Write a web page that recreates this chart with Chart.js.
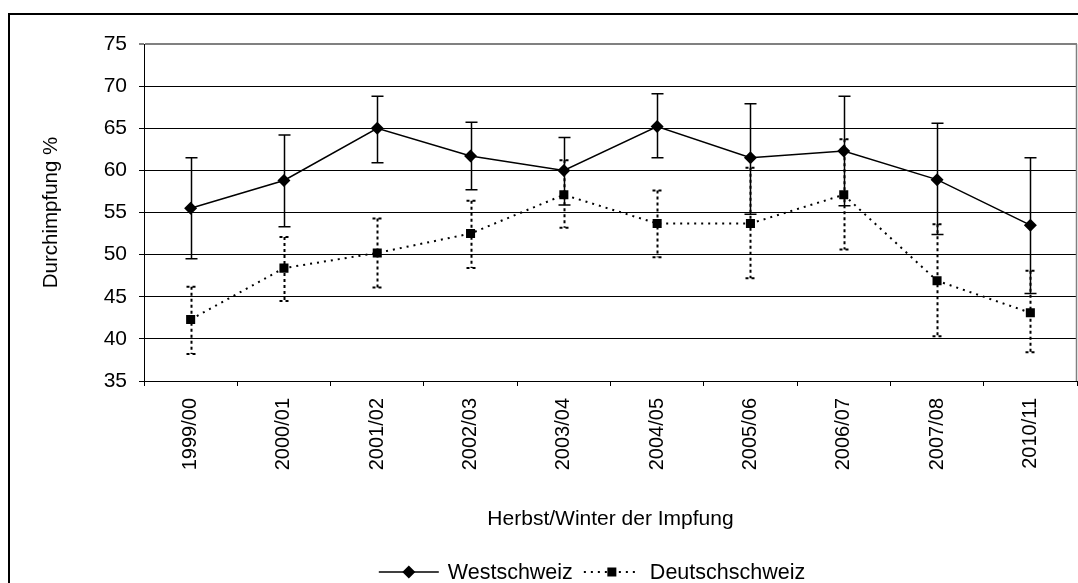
<!DOCTYPE html>
<html>
<head>
<meta charset="utf-8">
<script src="https://cdn.jsdelivr.net/npm/chart.js@4/dist/chart.umd.min.js"></script>
<style>
  html, body { margin: 0; padding: 0; background: #fff; }
  #wrap { width: 1078px; height: 583px; position: relative; }
</style>
</head>
<body>
<div id="wrap"><canvas id="myChart" width="1078" height="583"></canvas></div>
<script>
// data
var seasons = ['1999/00', '2000/01', '2001/02', '2002/03', '2003/04', '2004/05', '2005/06', '2006/07', '2007/08', '2010/11'];
var west = [55.5, 58.8, 65.0, 61.7, 60.0, 65.2, 61.5, 62.3, 58.9, 53.5];
var westLow = [49.5, 53.3, 60.9, 57.7, 55.9, 61.5, 54.8, 55.8, 52.4, 45.4];
var westHigh = [61.5, 64.2, 68.8, 65.7, 63.9, 69.1, 67.9, 68.8, 65.6, 61.5];
var deutsch = [42.3, 48.4, 50.2, 52.5, 57.1, 53.7, 53.7, 57.1, 46.9, 43.1];
var deutschLow = [38.2, 44.5, 46.1, 48.4, 53.2, 49.7, 47.2, 50.6, 40.3, 38.4];
var deutschHigh = [46.2, 52.1, 54.3, 56.4, 61.2, 57.6, 60.3, 63.7, 53.6, 48.1];
var yMin = 35, yMax = 75, yStep = 5;

var FONT = 'Liberation Sans, Arial, sans-serif';

// error bars, drawn under the markers
var errorBars = {
  id: 'errorBars',
  beforeDatasetsDraw: function (chart) {
    var ctx = chart.ctx, ys = chart.scales.y;
    chart.data.datasets.forEach(function (ds, i) {
      var meta = chart.getDatasetMeta(i);
      ctx.save();
      ctx.strokeStyle = '#000';
      ctx.lineWidth = ds.errDotted ? 2 : 1.5;
      ctx.setLineDash(ds.errDotted ? [3, 3] : []);
      meta.data.forEach(function (pt, j) {
        var x = Math.round(pt.x) + 0.5;
        var yh = ys.getPixelForValue(ds.errHigh[j]);
        var yl = ys.getPixelForValue(ds.errLow[j]);
        var w = ds.errDotted ? 5 : 6;
        ctx.beginPath();
        ctx.moveTo(x, yh); ctx.lineTo(x, yl);
        ctx.moveTo(x - w, yh); ctx.lineTo(x + w, yh);
        ctx.moveTo(x - w, yl); ctx.lineTo(x + w, yl);
        ctx.stroke();
      });
      ctx.restore();
    });
  }
};

// outer frame + plot border
var frame = {
  id: 'frame',
  beforeDraw: function (chart) {
    var ctx = chart.ctx;
    ctx.save();
    ctx.fillStyle = '#fff';
    ctx.fillRect(0, 0, chart.width, chart.height);
    ctx.strokeStyle = '#000';
    ctx.lineWidth = 2;
    ctx.strokeRect(9, 14, 1200, 1000);
    ctx.restore();
  },
  afterDraw: function (chart) {
    var ctx = chart.ctx, a = chart.chartArea;
    ctx.save();
    ctx.strokeStyle = '#808080';
    ctx.lineWidth = 1.5;
    ctx.beginPath();
    ctx.moveTo(a.right - 0.5, a.top);
    ctx.lineTo(a.right - 0.5, a.bottom);
    ctx.stroke();
    ctx.restore();
  }
};

function drawMarker(ctx, style, x, y) {
  ctx.setLineDash([]);
  ctx.fillStyle = '#000';
  ctx.beginPath();
  if (style === 'rectRot') {
    ctx.moveTo(x, y - 6.5); ctx.lineTo(x + 6.5, y); ctx.lineTo(x, y + 6.5); ctx.lineTo(x - 6.5, y);
    ctx.closePath();
  } else {
    ctx.rect(x - 4.5, y - 4.5, 9, 9);
  }
  ctx.fill();
}

// legend: line + marker like the original
var legendSym = [60, 56];
var lineLegend = {
  id: 'lineLegend',
  afterDraw: function (chart) {
    var ctx = chart.ctx;
    var ds = chart.data.datasets;
    var gapSym = [9, 10], gapItem = 11, y = 572, centre = 592;
    ctx.save();
    ctx.font = '21.5px ' + FONT;
    var total = 0;
    ds.forEach(function (d, i) {
      total += legendSym[i] + gapSym[i] + ctx.measureText(d.label).width + (i ? gapItem : 0);
    });
    var x = centre - total / 2;
    ds.forEach(function (d, i) {
      if (i) x += gapItem;
      ctx.strokeStyle = '#000';
      ctx.lineWidth = d.borderWidth;
      ctx.setLineDash(d.borderDash || []);
      ctx.beginPath();
      ctx.moveTo(x, y); ctx.lineTo(x + legendSym[i], y);
      ctx.stroke();
      drawMarker(ctx, d.pointStyle, x + legendSym[i] / 2, y);
      x += legendSym[i] + gapSym[i];
      ctx.fillStyle = '#000';
      ctx.textBaseline = 'middle';
      ctx.textAlign = 'left';
      ctx.fillText(d.label, x, y + 1);
      x += ctx.measureText(d.label).width;
    });
    ctx.restore();
  }
};

var ctx = document.getElementById('myChart').getContext('2d');
var chart = new Chart(ctx, {
  type: 'line',
  data: {
    labels: seasons,
    datasets: [{
      label: 'Westschweiz',
      data: west,
      errLow: westLow,
      errHigh: westHigh,
      errDotted: false,
      borderColor: '#000',
      borderWidth: 1.5,
      backgroundColor: '#000',
      pointStyle: 'rectRot',
      pointRadius: 6.5,
      pointBorderWidth: 0,
      tension: 0
    }, {
      label: 'Deutschschweiz',
      data: deutsch,
      errLow: deutschLow,
      errHigh: deutschHigh,
      errDotted: true,
      borderColor: '#000',
      borderWidth: 2,
      borderDash: [2, 5],
      backgroundColor: '#000',
      pointStyle: 'rect',
      pointRadius: 6.4,
      pointBorderWidth: 0,
      tension: 0
    }]
  },
  options: {
    responsive: false,
    animation: false,
    layout: { autoPadding: false, padding: { left: 0, right: 1, top: 44, bottom: 48 } },
    plugins: {
      legend: { display: false },
      tooltip: { enabled: false }
    },
    scales: {
      x: {
        offset: true,
        grid: { offset: true, drawOnChartArea: false, drawTicks: true, tickLength: 5, color: '#000' },
        border: { color: '#000', width: 1 },
        ticks: {
          autoSkip: false, maxRotation: 90, minRotation: 90, padding: 12,
          color: '#000', font: { family: FONT, size: 20 }
        },
        title: {
          display: true, text: 'Herbst/Winter der Impfung', color: '#000',
          font: { family: FONT, size: 21 }, padding: { top: 0, bottom: 3 }
        },
        afterFit: function (s) { s.height = 154; s.paddingLeft = 0; s.paddingRight = 0; }
      },
      y: {
        min: yMin, max: yMax,
        grid: {
          color: function (c) { return c.tick && c.tick.value === yMax ? '#808080' : '#000'; },
          lineWidth: function (c) { return c.tick && c.tick.value === yMax ? 2 : 1; },
          tickLength: 5
        },
        border: { color: '#000', width: 1 },
        ticks: {
          stepSize: yStep, padding: 12, color: '#000',
          font: { family: FONT, size: 21 }
        },
        title: {
          display: true, text: 'Durchimpfung %', color: '#000',
          font: { family: FONT, size: 20.5 }, padding: { top: 39, bottom: 0 }
        },
        afterFit: function (s) { s.width = 144; }
      }
    }
  },
  plugins: [frame, errorBars, lineLegend]
});
</script>
</body>
</html>
